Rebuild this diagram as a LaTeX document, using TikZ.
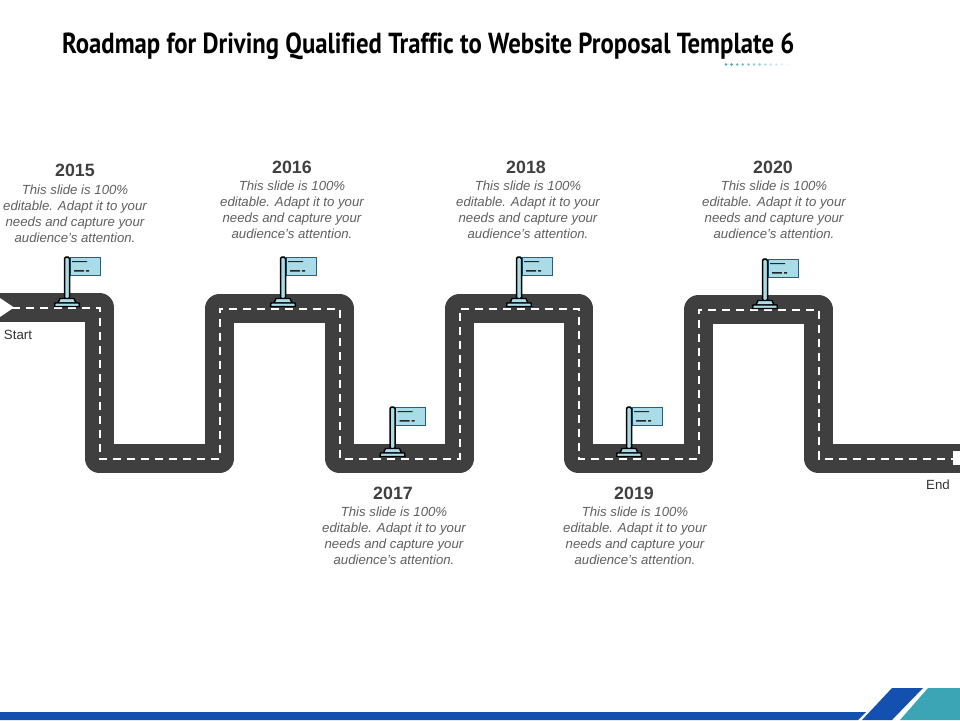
\documentclass[tikz,border=0pt]{standalone}
\usepackage{fontspec}
\usepackage{tikz}
\setmainfont{Liberation Sans}
\newfontfamily\titlefont[FakeStretch=0.853,Ligatures=NoCommon]{PT Sans}
\definecolor{roadgray}{HTML}{3F3F3F}
\definecolor{inkgray}{HTML}{5F5F5F}
\definecolor{yeargray}{HTML}{404040}
\definecolor{flagblue}{HTML}{A9DCE6}
\definecolor{flagline}{HTML}{1F5F8F}
\definecolor{barblue}{HTML}{1450B0}
\definecolor{barteal}{HTML}{3BA5B5}
\tikzset{
  year/.style={font=\fontsize{17.8}{20}\selectfont\bfseries, text=yeargray, inner sep=0pt},
  blurb/.style={font=\fontsize{13.2}{16}\selectfont\itshape, text=inkgray, align=center, inner sep=0pt},
  road/.style={draw=roadgray, line width=29pt, line join=round},
  lane/.style={draw=white, line width=2pt, dash pattern=on 8pt off 6pt},
  endlabel/.style={font=\fontsize{13.3}{15}\selectfont, text=black!80, inner sep=0pt},
  flagmark/.pic={
    \fill[flagblue, draw=flagline, line width=1pt] (3,-49.5) rectangle (33,-32);
    \fill[black!85] (5,-46) rectangle (20,-45) (7,-37) rectangle (17,-35.5) (19,-37) rectangle (22,-35.5);
    \fill[flagblue, draw=black, line width=1.5pt, rounded corners=1.5pt] (-2.5,-8) -- (-2.5,-50) -- (2.5,-50) -- (2.5,-8) -- cycle;
    \fill[flagblue, draw=black, line width=1.4pt] (-7,-8.5) -- (7,-8.5) -- (9,-4) -- (-9,-4) -- cycle;
    \fill[flagblue, draw=black, line width=1.4pt] (-12,-4) -- (12,-4) -- (12.5,-0.5) -- (-12.5,-0.5) -- cycle;
  }
}
\begin{document}
\begin{tikzpicture}[x=1pt,y=-1pt]
  \useasboundingbox (0,0) rectangle (960,720);
  % title
  \node[anchor=west, inner sep=0pt, font=\fontsize{29}{32}\selectfont\titlefont\bfseries] (title) at (62,46)
    {Roadmap for Driving Qualified Traffic to Website Proposal Template 6};
  \foreach \i in {0,...,11}
    \fill[barteal, opacity=1-\i/12] ({726+\i*5.6},64.5) circle (1.4);
  % road
  \coordinate (p0) at (-16,307.5);
  \coordinate (p1) at (99.5,307.5);
  \coordinate (p2) at (99.5,458.5);
  \coordinate (p3) at (219.5,458.5);
  \coordinate (p4) at (219.5,308.5);
  \coordinate (p5) at (339.5,308.5);
  \coordinate (p6) at (339.5,458.5);
  \coordinate (p7) at (459.5,458.5);
  \coordinate (p8) at (459.5,308.5);
  \coordinate (p9) at (578.5,308.5);
  \coordinate (p10) at (578.5,458.5);
  \coordinate (p11) at (698.5,458.5);
  \coordinate (p12) at (698.5,309.5);
  \coordinate (p13) at (818.5,309.5);
  \coordinate (p14) at (818.5,458.5);
  \coordinate (p15) at (976,458.5);
  \coordinate (p16) at (954,458.5);
  \begin{scope}
    \clip (0,0) rectangle (960,720);
    \draw[road] (p0) -- (p1) -- (p2) -- (p3) -- (p4) -- (p5) -- (p6) -- (p7)
      -- (p8) -- (p9) -- (p10) -- (p11) -- (p12) -- (p13) -- (p14) -- (p15);
    \draw[lane] (p0) -- (p1) -- (p2) -- (p3) -- (p4) -- (p5) -- (p6) -- (p7)
      -- (p8) -- (p9) -- (p10) -- (p11) -- (p12) -- (p13) -- (p14) -- (p16);
    \fill[white] (0,298) -- (14,307.5) -- (0,317) -- cycle;
    \fill[white] (953,451) rectangle (960,465);
  \end{scope}
  % flags
  \pic at (67,307) {flagmark};
  \pic at (283,307) {flagmark};
  \pic at (392.5,457) {flagmark};
  \pic at (519,307) {flagmark};
  \pic at (629,457) {flagmark};
  \pic at (765,309) {flagmark};
  % labels
  \node[endlabel] (start) at (18,335) {Start};
  \node[endlabel] (end) at (938,485) {End};
  \node[year] (y15) at (75,170) {2015};
  \node[blurb] (t15) at (75,213.5) {This slide is 100\%\\editable. Adapt it to your\\needs and capture your\\audience's attention.};
  \node[year] (y16) at (292,167) {2016};
  \node[blurb] (t16) at (292,209.5) {This slide is 100\%\\editable. Adapt it to your\\needs and capture your\\audience's attention.};
  \node[year] (y17) at (393,493) {2017};
  \node[blurb] (t17) at (394,535.5) {This slide is 100\%\\editable. Adapt it to your\\needs and capture your\\audience's attention.};
  \node[year] (y18) at (526,167) {2018};
  \node[blurb] (t18) at (528,209.5) {This slide is 100\%\\editable. Adapt it to your\\needs and capture your\\audience's attention.};
  \node[year] (y19) at (634,493) {2019};
  \node[blurb] (t19) at (635,535.5) {This slide is 100\%\\editable. Adapt it to your\\needs and capture your\\audience's attention.};
  \node[year] (y20) at (773,167) {2020};
  \node[blurb] (t20) at (774,209.5) {This slide is 100\%\\editable. Adapt it to your\\needs and capture your\\audience's attention.};
  % bottom bar
  \fill[barblue] (0,712) -- (866,712) -- (858,720) -- (0,720) -- cycle;
  \fill[barblue] (892,688) -- (923,688) -- (892,720) -- (862,720) -- cycle;
  \fill[barteal] (928,688) -- (960,688) -- (960,720) -- (900,720) -- cycle;
\end{tikzpicture}
\end{document}
